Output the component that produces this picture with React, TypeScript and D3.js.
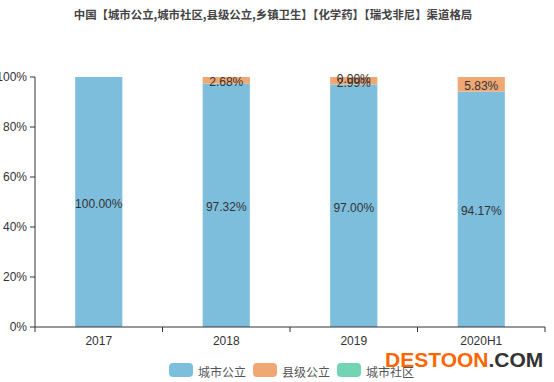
import React from "react";
import * as d3 from "d3";

const title = "中国【城市公立,城市社区,县级公立,乡镇卫生】【化学药】【瑞戈非尼】渠道格局";
const categories = ["2017", "2018", "2019", "2020H1"];
const seriesNames = ["城市公立", "县级公立", "城市社区"];
const cityPublic: (number | null)[] = [100.0, 97.32, 97.0, 94.17];
const countyPublic: (number | null)[] = [null, 2.68, 2.99, 5.83];
const cityCommunity: (number | null)[] = [null, null, 0.0, null];
const yTicks = [0, 20, 40, 60, 80, 100];
const colors = ["#7ebedd", "#efa874", "#72d4b3"];

const W = 554;
const H = 382;
const left = 35;
const right = 545;
const top = 77;
const bottom = 327;

export default function App() {
  const x = d3
    .scaleBand<string>()
    .domain(categories)
    .range([left, right])
    .paddingInner(0.63)
    .paddingOuter(0.315);
  const y = d3.scaleLinear().domain([0, 100]).range([bottom, top]);
  const step = x.step();
  const series = [cityPublic, countyPublic, cityCommunity];

  const segs: any[] = [];
  categories.forEach((c, i) => {
    let acc = 0;
    series.forEach((s, k) => {
      const v = s[i];
      if (v === null || v === undefined) return;
      const y0 = acc;
      acc += v;
      segs.push({ c, k, v, y0, y1: acc });
    });
  });

  const font = "'Liberation Sans', Arial, Helvetica, sans-serif";
  const boundaries = d3.range(categories.length + 1).map((i) => left + i * step);

  return (
    <svg width={W} height={H} style={{ position: "absolute", left: 0, top: 0, background: "#fff" }}>
      <text
        x={273}
        y={14}
        textAnchor="middle"
        dominantBaseline="central"
        fontFamily="'Noto Sans CJK SC', sans-serif"
        fontWeight="bold"
        fontSize={11.4}
        fill="#444"
      >
        {title}
      </text>
      {segs.map((s, i) => (
        <rect
          key={"r" + i}
          x={x(s.c)!}
          width={x.bandwidth()}
          y={y(s.y1)}
          height={Math.max(0, y(s.y0) - y(s.y1))}
          fill={colors[s.k]}
        />
      ))}
      {segs.map((s, i) => (
        <text
          key={"t" + i}
          x={x(s.c)! + x.bandwidth() / 2}
          y={(y(s.y0) + y(s.y1)) / 2 + 2}
          textAnchor="middle"
          dominantBaseline="central"
          fontFamily={font}
          fontSize={12}
          fill="#333"
        >
          {s.v.toFixed(2) + "%"}
        </text>
      ))}
      {/* y axis */}
      <line x1={left} x2={left} y1={top} y2={bottom} stroke="#333" />
      {yTicks.map((t) => (
        <g key={"y" + t}>
          <line x1={left - 5} x2={left} y1={y(t)} y2={y(t)} stroke="#333" />
          <text
            x={left - 8}
            y={y(t)}
            textAnchor="end"
            dominantBaseline="central"
            fontFamily={font}
            fontSize={12}
            fill="#333"
          >
            {t + "%"}
          </text>
        </g>
      ))}
      {/* x axis */}
      <line x1={left} x2={right} y1={bottom} y2={bottom} stroke="#333" />
      {boundaries.map((b, i) => (
        <line key={"xt" + i} x1={b} x2={b} y1={bottom} y2={bottom + 5} stroke="#333" />
      ))}
      {categories.map((c) => (
        <text
          key={"xl" + c}
          x={x(c)! + x.bandwidth() / 2}
          y={341}
          textAnchor="middle"
          dominantBaseline="central"
          fontFamily={font}
          fontSize={12}
          fill="#333"
        >
          {c}
        </text>
      ))}
      {/* legend */}
      {seriesNames.map((n, i) => {
        const lx = [169, 253, 337][i];
        return (
          <g key={"lg" + n}>
            <rect x={lx} y={363} width={24} height={14} rx={4} fill={colors[i]} />
            <text
              x={lx + 29}
              y={371}
              dominantBaseline="central"
              fontFamily="'Noto Sans CJK SC', sans-serif"
              fontSize={12}
              fill="#555"
            >
              {n}
            </text>
          </g>
        );
      })}
      {/* watermark */}
      <text x={385} y={367} fontFamily={font} fontWeight="bold" fontSize={21} fill="#ff6600">
        DESTOON<tspan fill="#333">.COM</tspan>
      </text>
    </svg>
  );
}
